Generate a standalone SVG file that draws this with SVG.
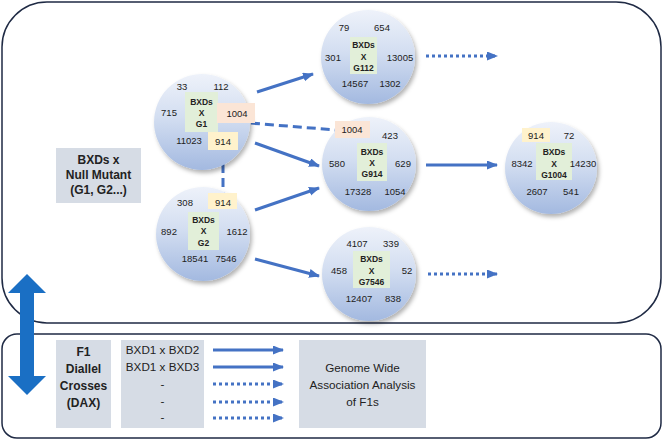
<svg xmlns="http://www.w3.org/2000/svg" width="666" height="442" viewBox="0 0 666 442">
<defs>
<linearGradient id="sph" x1="0" y1="0" x2="0" y2="1">
<stop offset="0" stop-color="#eef2fa"/>
<stop offset="0.45" stop-color="#d3def1"/>
<stop offset="1" stop-color="#a3b9e0"/>
</linearGradient>
<filter id="sh" x="-20%" y="-20%" width="150%" height="150%">
<feDropShadow dx="2" dy="3" stdDeviation="2" flood-color="#000" flood-opacity="0.3"/>
</filter>
<marker id="ah" markerUnits="userSpaceOnUse" markerWidth="12" markerHeight="10" refX="10" refY="4.5" orient="auto">
<path d="M0,0 L11,4.5 L0,9 z" fill="#4472c4"/>
</marker>
</defs>
<style>
.frame{fill:none;stroke:#1f2a44;stroke-width:1.5}
.ball{fill:url(#sph);filter:url(#sh)}
.gb{fill:#e2efd9}
.pb{fill:#fbe5d6}
.yb{fill:#fff2cc}
.lb{fill:#d6dce5}
.n{font-family:"Liberation Sans",Arial,sans-serif;font-size:9.5px;fill:#222;text-anchor:middle}
.g{font-family:"Liberation Sans",Arial,sans-serif;font-size:8.5px;font-weight:bold;fill:#222;text-anchor:middle}
.lt{font-family:"Liberation Sans",Arial,sans-serif;font-size:12px;font-weight:bold;fill:#222;text-anchor:middle}
.bt{font-family:"Liberation Sans",Arial,sans-serif;font-size:11.7px;fill:#222;text-anchor:middle}
.ar{stroke:#4472c4;stroke-width:3;fill:none;marker-end:url(#ah)}
.dot{stroke:#4472c4;stroke-width:3;fill:none;stroke-dasharray:3 3;marker-end:url(#ah)}
.dash{stroke:#4472c4;stroke-width:3;fill:none;stroke-dasharray:9 5}
</style>
<rect class="frame" x="2" y="2" width="659" height="321" rx="45"/>
<rect class="frame" x="2" y="334" width="659" height="104" rx="15"/>

<g id="label-null">
<rect class="lb" x="56" y="148" width="85" height="55"/>
<text class="lt" x="98.5" y="164">BXDs x</text>
<text class="lt" x="98.5" y="179">Null Mutant</text>
<text class="lt" x="98.5" y="194">(G1, G2...)</text>
</g>

<g id="connectors">
<line class="ar" x1="257" y1="92" x2="313" y2="74"/>
<line class="ar" x1="255" y1="143" x2="319" y2="166"/>
<line class="ar" x1="255" y1="210" x2="319" y2="188"/>
<line class="ar" x1="255" y1="259" x2="319" y2="276"/>
<line class="dash" x1="237" y1="122" x2="336" y2="130"/>
<line class="dash" x1="223" y1="150" x2="223" y2="193"/>
<line class="dot" x1="426" y1="56" x2="497" y2="56"/>
<line class="ar" x1="426" y1="165" x2="497" y2="165"/>
<line class="dot" x1="428" y1="274" x2="497" y2="274"/>
<line class="ar" x1="213" y1="350" x2="283" y2="350"/>
<line class="ar" x1="213" y1="367" x2="283" y2="367"/>
<line class="dot" x1="213" y1="384" x2="283" y2="384"/>
<line class="dot" x1="213" y1="402" x2="283" y2="402"/>
<line class="dot" x1="213" y1="418" x2="283" y2="418"/>
</g>

<g id="G1">
<circle class="ball" cx="202" cy="122" r="48"/>
<rect class="gb" x="185" y="92" width="33" height="40"/>
<rect class="pb" x="217" y="103" width="38" height="20"/>
<rect class="yb" x="208" y="132" width="30" height="18"/>
<text class="g" x="201.5" y="104.7">BXDs</text>
<text class="g" x="201.5" y="115.7">X</text>
<text class="g" x="201.5" y="127">G1</text>
<text class="n" x="182" y="89.5">33</text>
<text class="n" x="221" y="89.5">112</text>
<text class="n" x="169" y="116">715</text>
<text class="n" x="237" y="116.5">1004</text>
<text class="n" x="189" y="144">11023</text>
<text class="n" x="223" y="144.5">914</text>
</g>

<g id="G2">
<circle class="ball" cx="203" cy="234" r="47"/>
<rect class="gb" x="188" y="212" width="31" height="38"/>
<rect class="yb" x="208" y="193" width="29" height="16"/>
<text class="g" x="203.5" y="222.5">BXDs</text>
<text class="g" x="203.5" y="234">X</text>
<text class="g" x="203.5" y="245.5">G2</text>
<text class="n" x="185" y="206">308</text>
<text class="n" x="223" y="205.5">914</text>
<text class="n" x="169" y="234.5">892</text>
<text class="n" x="237" y="234.5">1612</text>
<text class="n" x="195" y="261.5">18541</text>
<text class="n" x="226" y="261.5">7546</text>
</g>

<g id="G112">
<circle class="ball" cx="368" cy="57" r="47"/>
<rect class="gb" x="350" y="37" width="27" height="37"/>
<text class="g" x="363.5" y="48">BXDs</text>
<text class="g" x="363.5" y="59.5">X</text>
<text class="g" x="363.5" y="71">G112</text>
<text class="n" x="344" y="31">79</text>
<text class="n" x="382" y="31">654</text>
<text class="n" x="333" y="60.5">301</text>
<text class="n" x="400" y="60.5">13005</text>
<text class="n" x="355" y="86.5">14567</text>
<text class="n" x="390" y="86.5">1302</text>
</g>

<g id="G914">
<circle class="ball" cx="369" cy="164" r="47"/>
<rect class="gb" x="357" y="143" width="30" height="38"/>
<rect class="pb" x="335" y="121" width="35" height="17"/>
<text class="g" x="372" y="154.5">BXDs</text>
<text class="g" x="372" y="166">X</text>
<text class="g" x="372" y="177">G914</text>
<text class="n" x="352" y="133">1004</text>
<text class="n" x="390" y="138.5">423</text>
<text class="n" x="337" y="166.5">580</text>
<text class="n" x="403" y="166.5">629</text>
<text class="n" x="358" y="194.5">17328</text>
<text class="n" x="395" y="194.5">1054</text>
</g>

<g id="G7546">
<circle class="ball" cx="369" cy="274" r="47"/>
<rect class="gb" x="353" y="251" width="37" height="37"/>
<text class="g" x="371.5" y="262">BXDs</text>
<text class="g" x="371.5" y="273.5">X</text>
<text class="g" x="371.5" y="284.5">G7546</text>
<text class="n" x="357" y="246.5">4107</text>
<text class="n" x="391" y="246.5">339</text>
<text class="n" x="339" y="273.5">458</text>
<text class="n" x="407" y="273.5">52</text>
<text class="n" x="359" y="301.5">12407</text>
<text class="n" x="393" y="301.5">838</text>
</g>

<g id="G1004">
<circle class="ball" cx="551" cy="168" r="46"/>
<rect class="gb" x="536" y="143" width="36" height="37"/>
<rect class="yb" x="522" y="128" width="28" height="14"/>
<text class="g" x="554" y="155">BXDs</text>
<text class="g" x="554" y="166.5">X</text>
<text class="g" x="554" y="178">G1004</text>
<text class="n" x="536" y="138.5">914</text>
<text class="n" x="569" y="138.5">72</text>
<text class="n" x="522" y="166.5">8342</text>
<text class="n" x="583" y="166.5">14230</text>
<text class="n" x="537" y="194.5">2607</text>
<text class="n" x="571" y="194.5">541</text>
</g>

<g id="F1">
<rect class="lb" x="56" y="340" width="55" height="88"/>
<text class="lt" x="83.5" y="356">F1</text>
<text class="lt" x="83.5" y="373">Diallel</text>
<text class="lt" x="83.5" y="390">Crosses</text>
<text class="lt" x="83.5" y="407">(DAX)</text>
</g>

<g id="crosses">
<rect class="lb" x="121" y="340" width="83" height="88"/>
<text class="bt" x="162.5" y="354">BXD1 x BXD2</text>
<text class="bt" x="162.5" y="371">BXD1 x BXD3</text>
<text class="bt" x="162.5" y="388">-</text>
<text class="bt" x="162.5" y="405">-</text>
<text class="bt" x="162.5" y="421">-</text>
</g>

<g id="gwas">
<rect class="lb" x="299" y="340" width="127" height="88"/>
<text class="bt" x="362.5" y="372">Genome Wide</text>
<text class="bt" x="362.5" y="389">Association Analysis</text>
<text class="bt" x="362.5" y="406">of F1s</text>
</g>

<g id="double-arrow">
<path d="M27,274 L46,293 L34,293 L34,376 L46,376 L27,395 L8,376 L20,376 L20,293 L8,293 Z" fill="#1a6fc4"/>
</g>
</svg>
